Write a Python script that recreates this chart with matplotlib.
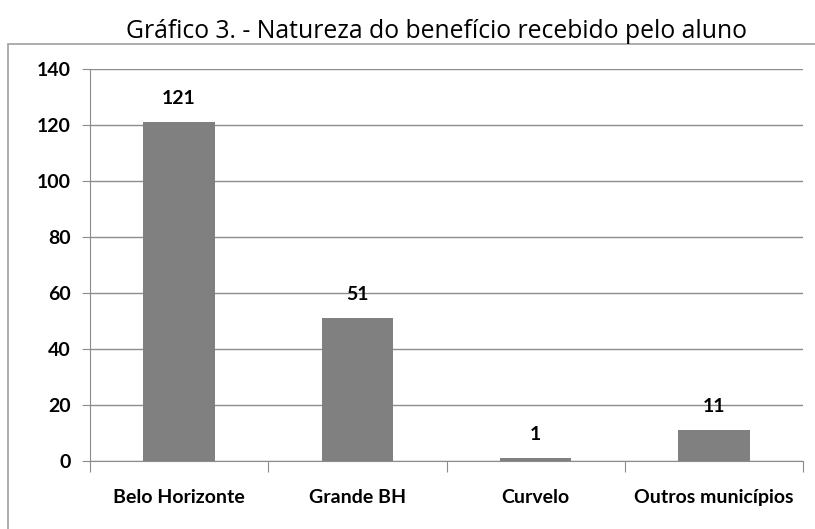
import matplotlib
matplotlib.use("Agg")
import matplotlib.pyplot as plt
from matplotlib.patches import Rectangle

categories = ["Belo Horizonte", "Grande BH", "Curvelo", "Outros municípios"]
values = [121, 51, 1, 11]
yticks = [0, 20, 40, 60, 80, 100, 120, 140]
title = "Gráfico 3. - Natureza do benefício recebido pelo aluno"

fig = plt.figure(figsize=(8.15, 5.29), dpi=100)
fig.patch.set_facecolor("white")

# outer chart frame (extends past the image edges on right/bottom)
fig.patches.append(Rectangle((8/815, -0.05), 1.2, 1 - 44/529 + 0.05,
                             transform=fig.transFigure, fill=False,
                             edgecolor="#a0a0a0", linewidth=1.2))

ax = fig.add_axes([90/815, 1 - 461/529, 713/815, 392/529])
x = list(range(len(categories)))
ax.bar(x, values, width=0.4, color="#808080", zorder=3)
ax.set_xlim(-0.5, len(categories) - 0.5)
ax.set_ylim(0, 140)
ax.set_yticks(yticks)
ax.set_yticklabels([str(v) for v in yticks], fontfamily="Lato", fontweight="bold", fontsize=14)
ax.grid(axis="y", color="#8c8c8c", linewidth=1, zorder=0)
ax.set_axisbelow(True)

for s in ["top", "right"]:
    ax.spines[s].set_visible(False)
ax.spines["left"].set_color("#8c8c8c")
ax.spines["bottom"].set_color("#8c8c8c")
ax.tick_params(axis="y", length=6, color="#8c8c8c", direction="out", pad=8)

# category boundary ticks
ax.set_xticks([i - 0.5 for i in range(len(categories) + 1)], minor=False)
ax.set_xticklabels([""] * (len(categories) + 1))
ax.tick_params(axis="x", length=8, color="#8c8c8c", direction="out")
ax.set_xticks(x, minor=True)
ax.set_xticklabels(categories, minor=True, fontfamily="Lato", fontweight="bold", fontsize=14)
ax.tick_params(axis="x", which="minor", length=0, pad=20)

for xi, v in zip(x, values):
    ax.annotate(str(v), (xi, v), xytext=(0, 17), textcoords="offset points",
                ha="center", va="center", fontfamily="Lato", fontweight="bold", fontsize=14)

fig.text(436/815, 1 - 32/529, title, ha="center", va="center",
         fontfamily="Open Sans", fontsize=17.8)

fig.savefig("out.png", dpi=100)
